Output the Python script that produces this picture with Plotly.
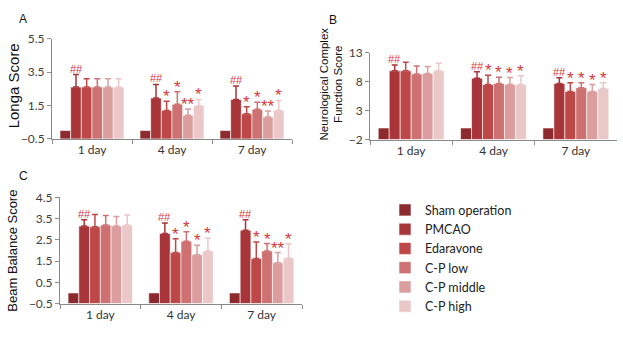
import plotly.graph_objects as go

days = ["1 day", "4 day", "7 day"]
groups = ["Sham operation", "PMCAO", "Edaravone", "C-P low", "C-P middle", "C-P high"]
colors = ["#8C2A2E", "#A83539", "#BE4848", "#CE7172", "#DB9D9E", "#EAC8C8"]

# Panel A: Longa score (mean, upper SD) per group across days
longa_sham = [0.0, 0.0, 0.0]
longa_pmcao = [2.6, 1.94, 1.86]
longa_edar = [2.6, 1.2, 1.0]
longa_low = [2.6, 1.57, 1.27]
longa_mid = [2.6, 0.91, 0.81]
longa_high = [2.6, 1.48, 1.21]
longa_sham_err = [0, 0, 0]
longa_pmcao_err = [0.75, 0.82, 0.8]
longa_edar_err = [0.5, 0.55, 0.42]
longa_low_err = [0.5, 0.75, 0.42]
longa_mid_err = [0.5, 0.38, 0.36]
longa_high_err = [0.5, 0.38, 0.59]
longa_marks = [["", "##", "", "", "", ""],
               ["", "##", "*", "*", "**", "*"],
               ["", "##", "*", "*", "**", "*"]]

# Panel B: Neurological complex function score
ncf_sham = [0.0, 0.0, 0.0]
ncf_pmcao = [9.86, 8.6, 7.67]
ncf_edar = [9.86, 7.5, 6.3]
ncf_low = [9.3, 7.67, 6.96]
ncf_mid = [9.4, 7.5, 6.3]
ncf_high = [9.86, 7.5, 6.8]
ncf_sham_err = [0, 0, 0]
ncf_pmcao_err = [1.0, 1.1, 1.0]
ncf_edar_err = [1.5, 1.6, 1.5]
ncf_low_err = [1.4, 1.1, 0.85]
ncf_mid_err = [1.2, 1.2, 1.2]
ncf_high_err = [1.3, 1.5, 1.0]
ncf_marks = [["", "##", "", "", "", ""],
             ["", "##", "*", "*", "*", "*"],
             ["", "##", "*", "*", "*", "*"]]

# Panel C: Beam balance score
beam_sham = [0.0, 0.0, 0.0]
beam_pmcao = [3.15, 2.8, 2.95]
beam_edar = [3.12, 1.9, 1.62]
beam_low = [3.2, 2.44, 1.98]
beam_mid = [3.15, 1.8, 1.42]
beam_high = [3.2, 1.98, 1.65]
beam_sham_err = [0, 0, 0]
beam_pmcao_err = [0.3, 0.5, 0.5]
beam_edar_err = [0.58, 0.65, 0.78]
beam_low_err = [0.45, 0.44, 0.35]
beam_mid_err = [0.45, 0.45, 0.48]
beam_high_err = [0.47, 0.6, 0.67]
beam_marks = [["", "##", "", "", "", ""],
              ["", "##", "*", "*", "*", "*"],
              ["", "##", "*", "*", "**", "*"]]

W, H = 623, 337


def PX(x):
    return x / W


def PY(y):
    return 1 - y / H


panels = [
    dict(vals=[longa_sham, longa_pmcao, longa_edar, longa_low, longa_mid, longa_high],
         errs=[longa_sham_err, longa_pmcao_err, longa_edar_err, longa_low_err, longa_mid_err, longa_high_err],
         marks=longa_marks, base=-0.5, rng=[-0.5, 5.5], dtick=2,
         xd=[PX(52), PX(292)], yd=[PY(137), PY(32)]),
    dict(vals=[ncf_sham, ncf_pmcao, ncf_edar, ncf_low, ncf_mid, ncf_high],
         errs=[ncf_sham_err, ncf_pmcao_err, ncf_edar_err, ncf_low_err, ncf_mid_err, ncf_high_err],
         marks=ncf_marks, base=-2, rng=[-2, 13], dtick=5,
         xd=[PX(370), PX(617)], yd=[PY(137.7), PY(46.7)]),
    dict(vals=[beam_sham, beam_pmcao, beam_edar, beam_low, beam_mid, beam_high],
         errs=[beam_sham_err, beam_pmcao_err, beam_edar_err, beam_low_err, beam_mid_err, beam_high_err],
         marks=beam_marks, base=-0.5, rng=[-0.5, 4.5], dtick=1,
         xd=[PX(60), PX(302)], yd=[PY(309.3), PY(198.3)]),
]

BARGAP = 0.2
fig = go.Figure()
annotations = []
axis_col = "#8A8A8A"
tick_font = dict(family="Lato, Open Sans, sans-serif", size=12, color="#404040")
red = "#D4383C"

for p_i, p in enumerate(panels):
    sfx = "" if p_i == 0 else str(p_i + 1)
    xa, ya = "x" + sfx, "y" + sfx
    for g_i, g in enumerate(groups):
        vals = p["vals"][g_i]
        errs = p["errs"][g_i]
        fig.add_trace(go.Bar(
            x=days, y=[v - p["base"] for v in vals], base=p["base"],
            name=g, legendgroup=g, showlegend=(p_i == 0),
            marker=dict(color=colors[g_i], line=dict(color="white", width=0.6)),
            error_y=dict(type="data", symmetric=False, array=errs,
                         arrayminus=[0] * len(errs), visible=any(e > 0 for e in errs),
                         color=colors[g_i] if g_i > 0 else colors[1], thickness=1.5, width=3),
            xaxis=xa, yaxis=ya,
        ))
        w = (1 - BARGAP) / len(groups)
        for d_i in range(len(days)):
            m = p["marks"][d_i][g_i]
            if m:
                star = m.startswith("*")
                annotations.append(dict(
                    x=d_i + (g_i - 2.5) * w, y=vals[d_i] + errs[d_i],
                    xref=xa, yref=ya, text=m, showarrow=False, yanchor="bottom",
                    xanchor="center", yshift=(-7 if star else -2),
                    font=dict(family="Liberation Sans, Arial", size=(17 if star else 11), color=red),
                ))
    fig.layout["xaxis" + sfx] = dict(
        domain=p["xd"], anchor=ya, type="category", showline=True, linecolor=axis_col,
        linewidth=1, ticks="outside", tickson="boundaries", ticklen=4, tickcolor=axis_col,
        showgrid=False, tickfont=dict(family="Lato, Open Sans, sans-serif", size=12, color="#333333"))
    fig.layout["yaxis" + sfx] = dict(
        domain=p["yd"], anchor=xa, range=p["rng"], tick0=p["rng"][0], dtick=p["dtick"],
        showline=True, linecolor=axis_col, linewidth=1, ticks="outside", ticklen=4,
        tickcolor=axis_col, showgrid=False, zeroline=False, tickfont=tick_font)

title_font = dict(family="Liberation Sans, Arial", color="#111111")


def paper_text(x, y, text, size, angle=0):
    return dict(x=PX(x), y=PY(y), text=text, textangle=angle, xref="paper", yref="paper",
                showarrow=False, xanchor="center", yanchor="middle",
                font=dict(size=size, **title_font))


annotations += [
    paper_text(23, 12, "A", 12),
    paper_text(333, 13, "B", 12),
    paper_text(23, 176, "C", 12),
    paper_text(13, 82, "Longa Score", 15, -90),
    paper_text(331, 80, "Neurological Complex<br>Function Score", 11.5, -90),
    paper_text(13, 254, "Beam Balance Score", 13, -90),
]

fig.update_layout(
    width=W, height=H, margin=dict(l=0, r=0, t=0, b=0),
    paper_bgcolor="white", plot_bgcolor="white",
    barmode="group", bargap=BARGAP, bargroupgap=0,
    annotations=annotations,
    legend=dict(x=PX(385), y=PY(196), xanchor="left", yanchor="top",
                font=dict(family="Lato, Open Sans, sans-serif", size=12.5, color="#222222"),
                itemwidth=30, tracegroupgap=0, bgcolor="rgba(0,0,0,0)"),
)

fig.write_html("out.html", config={"displayModeBar": False},
               post_script="document.body.style.margin='0';document.body.style.overflow='hidden';")
